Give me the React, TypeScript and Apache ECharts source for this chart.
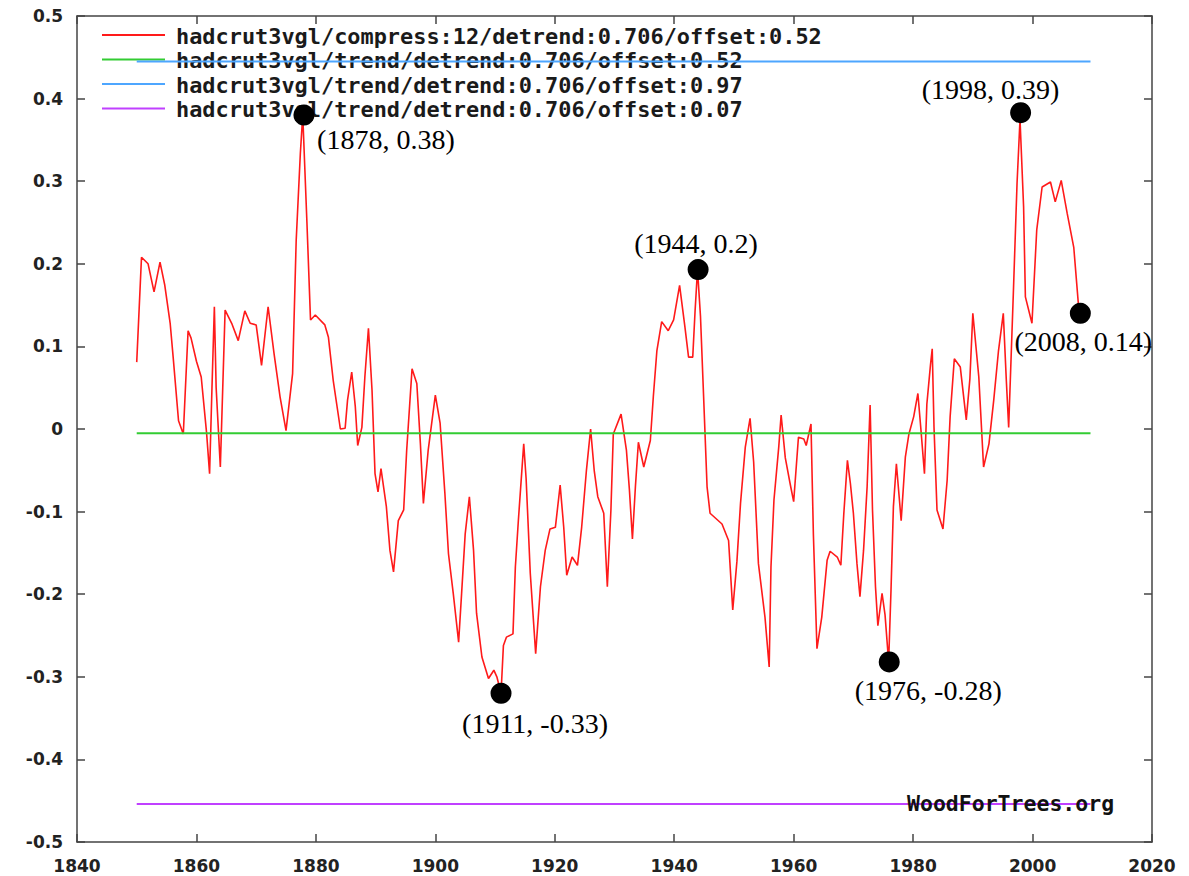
import React, { useEffect, useRef } from "react";
import * as echarts from "echarts";

// Detrended HadCRUT3 annual series (vertices)
const years = [
  1850.0, 1850.8, 1851.9, 1852.9, 1853.9, 1854.7, 1855.6, 1856.1, 1857.0, 1857.8,
  1858.6, 1859.1, 1860.0, 1860.8, 1861.7, 1862.2, 1862.6, 1863.0, 1863.3, 1864.0,
  1864.8, 1865.9, 1867.0, 1868.1, 1869.0, 1870.0, 1870.9, 1872.0, 1873.0, 1874.0,
  1875.0, 1876.1, 1876.7, 1877.4, 1877.8, 1878.5, 1879.1, 1879.9, 1881.5, 1882.1,
  1882.9, 1884.1, 1884.9, 1885.3, 1886.0, 1886.6, 1887.0, 1887.7, 1888.2, 1888.8,
  1889.4, 1889.9, 1890.4, 1890.9, 1891.8, 1892.4, 1893.0, 1893.8, 1894.7, 1895.2,
  1896.1, 1896.9, 1897.5, 1898.0, 1898.8, 1900.0, 1900.8, 1901.6, 1902.2, 1903.0,
  1903.9, 1904.4, 1905.0, 1905.7, 1906.4, 1906.9, 1907.8, 1908.9, 1909.8, 1910.3,
  1911.0, 1911.4, 1911.9, 1913.0, 1913.4, 1913.9, 1914.8, 1915.2, 1915.9, 1916.8,
  1917.6, 1918.4, 1919.2, 1920.1, 1920.9, 1921.5, 1922.0, 1922.9, 1923.8, 1924.5,
  1925.3, 1926.0, 1926.6, 1927.2, 1928.2, 1928.8, 1929.4, 1929.8, 1931.1, 1932.0,
  1932.5, 1933.0, 1933.5, 1934.0, 1934.9, 1936.0, 1936.5, 1937.1, 1937.9, 1939.0,
  1939.9, 1940.9, 1941.8, 1942.4, 1943.1, 1943.5, 1943.9, 1944.4, 1944.9, 1945.5,
  1946.0, 1948.0, 1949.1, 1949.8, 1950.5, 1951.1, 1951.9, 1952.7, 1953.3, 1954.1,
  1955.2, 1955.9, 1956.2, 1956.7, 1957.5, 1957.9, 1958.6, 1959.4, 1960.0, 1960.8,
  1961.7, 1962.1, 1962.9, 1963.3, 1963.9, 1964.7, 1965.6, 1966.1, 1967.3, 1967.9,
  1968.4, 1969.0, 1969.5, 1970.0, 1970.6, 1971.1, 1971.7, 1972.3, 1972.8, 1973.2,
  1973.7, 1974.1, 1974.8, 1975.3, 1975.9, 1976.3, 1976.7, 1977.2, 1978.0, 1978.7,
  1979.3, 1980.1, 1980.8, 1981.3, 1981.9, 1982.3, 1982.9, 1983.2, 1983.5, 1984.0,
  1985.0, 1985.7, 1986.2, 1986.9, 1987.9, 1988.9, 1989.5, 1990.0, 1991.0, 1991.8,
  1992.7, 1993.5, 1994.3, 1995.1, 1995.6, 1996.0, 1996.8, 1997.4, 1997.9, 1998.5,
  1998.8, 1999.9, 2000.7, 2001.6, 2003.0, 2003.8, 2004.8, 2005.8, 2006.9, 2007.8,
];
const anomaly = [
  0.081, 0.208, 0.200, 0.166, 0.202, 0.174, 0.128, 0.087, 0.010, -0.006,
  0.119, 0.110, 0.082, 0.063, -0.005, -0.054, 0.050, 0.148, 0.050, -0.046,
  0.144, 0.128, 0.107, 0.143, 0.128, 0.126, 0.077, 0.148, 0.091, 0.039,
  -0.002, 0.067, 0.228, 0.334, 0.380, 0.250, 0.132, 0.138, 0.126, 0.111,
  0.059, 0.000, 0.001, 0.035, 0.069, 0.027, -0.020, 0.002, 0.063, 0.122,
  0.047, -0.054, -0.076, -0.048, -0.094, -0.147, -0.173, -0.111, -0.098, -0.026,
  0.073, 0.055, -0.018, -0.090, -0.026, 0.041, 0.007, -0.078, -0.151, -0.199,
  -0.258, -0.199, -0.127, -0.082, -0.147, -0.223, -0.276, -0.302, -0.292, -0.300,
  -0.320, -0.262, -0.252, -0.248, -0.167, -0.111, -0.018, -0.060, -0.175, -0.272,
  -0.191, -0.147, -0.121, -0.119, -0.068, -0.119, -0.177, -0.155, -0.165, -0.119,
  -0.050, 0.000, -0.050, -0.082, -0.102, -0.191, -0.098, -0.006, 0.018, -0.026,
  -0.074, -0.133, -0.070, -0.016, -0.046, -0.014, 0.039, 0.095, 0.130, 0.119,
  0.132, 0.174, 0.123, 0.087, 0.087, 0.144, 0.193, 0.136, 0.043, -0.070,
  -0.102, -0.115, -0.135, -0.219, -0.160, -0.090, -0.022, 0.013, -0.040, -0.163,
  -0.228, -0.288, -0.167, -0.086, -0.022, 0.017, -0.035, -0.066, -0.088, -0.010,
  -0.012, -0.020, 0.006, -0.127, -0.266, -0.228, -0.159, -0.148, -0.155, -0.165,
  -0.102, -0.038, -0.066, -0.102, -0.163, -0.203, -0.147, -0.070, 0.029, -0.098,
  -0.191, -0.238, -0.199, -0.225, -0.282, -0.195, -0.094, -0.042, -0.111, -0.034,
  -0.006, 0.015, 0.043, 0.000, -0.054, 0.030, 0.077, 0.097, 0.002, -0.098,
  -0.121, -0.062, 0.015, 0.085, 0.075, 0.011, 0.060, 0.140, 0.063, -0.046,
  -0.018, 0.035, 0.095, 0.140, 0.060, 0.002, 0.168, 0.297, 0.375, 0.269,
  0.160, 0.128, 0.241, 0.293, 0.299, 0.275, 0.301, 0.261, 0.220, 0.140,
];

// Trend lines (flat after detrending), start/end years and levels
const trendYears = [1850, 2009.7];
const trendGreen = [-0.005, -0.005];
const trendBlue = [0.445, 0.445];
const trendPurple = [-0.454, -0.454];

// Annotated points
const markYears = [1878, 1911, 1944, 1976, 1998, 2008];
const markValues = [0.38, -0.32, 0.193, -0.282, 0.383, 0.14];
const markLabels = ["(1878, 0.38)", "(1911, -0.33)", "(1944, 0.2)", "(1976, -0.28)", "(1998, 0.39)", "(2008, 0.14)"];
const markOffsets: [number, number][] = [[82, 24], [34, 30], [-2, -26], [39, 29], [-30, -23], [3, 28]];

const legendNames = [
  "hadcrut3vgl/compress:12/detrend:0.706/offset:0.52",
  "hadcrut3vgl/trend/detrend:0.706/offset:0.52",
  "hadcrut3vgl/trend/detrend:0.706/offset:0.97",
  "hadcrut3vgl/trend/detrend:0.706/offset:0.07",
];
const colors = ["#ff1a1a", "#33cc33", "#4da6ff", "#c040ff"];

const xTicks = { min: 1840, max: 2020, interval: 20 };
const yTicks = { min: -0.5, max: 0.5, interval: 0.1 };

export default function App() {
  const ref = useRef<HTMLDivElement>(null);
  useEffect(() => {
    if (!ref.current) return;
    const chart = echarts.init(ref.current, null, { renderer: "svg" });
    const frame = { show: true, onZero: false, lineStyle: { color: "#444", width: 1.5 } };
    const tick = { show: true, inside: true, length: 8, lineStyle: { color: "#444", width: 1.5 } };
    const labelStyle = { color: "#222", fontFamily: "DejaVu Sans", fontWeight: "bold" as const, fontSize: 17 };
    const pairs = (xs: number[], ys: number[]) => xs.map((x, i) => [x, ys[i]]);
    const legendGraphics: any[] = [];
    const legendY = [35, 59.5, 84, 108.5];
    legendNames.forEach((name, i) => {
      legendGraphics.push({
        type: "line", z: 1,
        shape: { x1: 102, y1: legendY[i], x2: 165, y2: legendY[i] },
        style: { stroke: colors[i], lineWidth: 2 },
      });
      legendGraphics.push({
        type: "text", z: 1,
        style: {
          text: name, x: 176, y: legendY[i] + 1, fill: "#1a1a1a",
          font: 'bold 21.9px "DejaVu Sans Mono"', verticalAlign: "middle", align: "left",
        },
      });
    });
    legendGraphics.push({
      type: "text", z: 100,
      style: {
        text: "WoodForTrees.org", x: 907, y: 803, fill: "#111",
        font: 'bold 21.5px "DejaVu Sans Mono"', verticalAlign: "middle", align: "left",
      },
    });

    chart.setOption({
      animation: false,
      backgroundColor: "#fff",
      grid: { left: 77, top: 16, width: 1075, height: 826, containLabel: false },
      xAxis: [
        {
          type: "value", ...xTicks, position: "bottom",
          axisLine: frame, axisTick: tick, splitLine: { show: false },
          axisLabel: {
            ...labelStyle, margin: 15, showMinLabel: true, showMaxLabel: true,
            formatter: (v: number) => String(Math.round(v)),
          },
        },
        {
          type: "value", ...xTicks, position: "top",
          axisLine: frame, axisTick: tick, splitLine: { show: false }, axisLabel: { show: false },
        },
      ],
      yAxis: [
        {
          type: "value", ...yTicks, position: "left",
          axisLine: frame, axisTick: tick, splitLine: { show: false },
          axisLabel: {
            ...labelStyle, margin: 14,
            formatter: (v: number) => (Math.abs(v) < 1e-9 ? "0" : v.toFixed(1)),
          },
        },
        {
          type: "value", ...yTicks, position: "right",
          axisLine: frame, axisTick: tick, splitLine: { show: false }, axisLabel: { show: false },
        },
      ],
      graphic: legendGraphics,
      series: [
        {
          type: "line", name: legendNames[0], data: pairs(years, anomaly),
          symbol: "none", lineStyle: { color: colors[0], width: 1.6 }, z: 2,
        },
        {
          type: "line", name: legendNames[1], data: pairs(trendYears, trendGreen),
          symbol: "none", lineStyle: { color: colors[1], width: 2 }, z: 3,
        },
        {
          type: "line", name: legendNames[2], data: pairs(trendYears, trendBlue),
          symbol: "none", lineStyle: { color: colors[2], width: 2 }, z: 3,
        },
        {
          type: "line", name: legendNames[3], data: pairs(trendYears, trendPurple),
          symbol: "none", lineStyle: { color: colors[3], width: 2 }, z: 3,
        },
        {
          type: "scatter", z: 5,
          symbol: "circle", symbolSize: 21,
          itemStyle: { color: "#000", opacity: 1 },
          data: markYears.map((y, i) => ({
            value: [y, markValues[i]],
            label: {
              show: true, position: "inside", offset: markOffsets[i],
              formatter: markLabels[i], color: "#000", opacity: 1,
              fontFamily: '"Liberation Serif", "DejaVu Serif", serif', fontSize: 28,
              align: "center", verticalAlign: "middle",
            },
          })),
        },
      ],
    });
    return () => chart.dispose();
  }, []);
  return (
    <div
      ref={ref}
      style={{ position: "absolute", left: 0, top: 0, width: 1189, height: 876, background: "#fff" }}
    />
  );
}
